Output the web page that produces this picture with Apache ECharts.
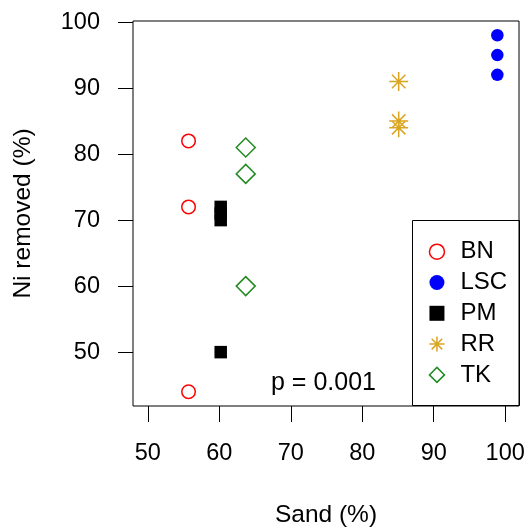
<!DOCTYPE html>
<html>
<head>
<meta charset="utf-8">
<script src="https://cdn.jsdelivr.net/npm/echarts@6/dist/echarts.min.js"></script>
<style>
  html, body { margin: 0; padding: 0; background: #fff; }
  #chart { width: 530px; height: 527px; }
</style>
</head>
<body>
<div id="chart"></div>
<script>
// groups and their colours
const groups = ['BN', 'LSC', 'PM', 'RR', 'TK']
const colors = ['#ff0000', '#0000ff', '#000000', '#daa520', '#228b22']

// sand (%) and Ni removed (%) per group
const sandBN = [55.7, 55.7, 55.7]
const niBN = [82, 72, 44]
const sandLSC = [98.9, 98.9, 98.9]
const niLSC = [98, 95, 92]
const sandPM = [60.2, 60.2, 60.2, 60.2]
const niPM = [72, 71, 70, 50]
const sandRR = [85.1, 85.1, 85.1]
const niRR = [91, 85, 84]
const sandTK = [63.7, 63.7, 63.7]
const niTK = [81, 77, 60]

// tick labels
const xTicks = [50, 60, 70, 80, 90, 100]
const yTicks = [50, 60, 70, 80, 90, 100]

const pText = 'p = 0.001'

const font = "'Liberation Sans', Arial, sans-serif"
const star = 'path://M0,-10L0,10M-10,0L10,0M-7.07,-7.07L7.07,7.07M-7.07,7.07L7.07,-7.07'

function pairs (xs, ys) {
  let out = []
  for (let i = 0; i < xs.length; i++) {
    out.push([xs[i], ys[i]])
  }
  return out
}

let chart = echarts.init(document.getElementById('chart'))

let option = {
  animation: false,
  textStyle: { fontFamily: font },
  grid: {
    left: 133, right: 11, top: 21, bottom: 121,
    outerBoundsMode: 'none',
    containLabel: false,
    show: true, borderColor: '#000', borderWidth: 1
  },
  xAxis: {
    type: 'value',
    min: 47.93, max: 101.93,
    name: 'Sand (%)',
    nameLocation: 'middle',
    nameGap: 97,
    nameTextStyle: { color: '#000', fontSize: 24.5, fontFamily: font },
    splitLine: { show: false },
    axisLine: { show: false },
    axisTick: { show: true, length: 16, lineStyle: { color: '#000' }, customValues: xTicks },
    axisLabel: { color: '#000', fontSize: 23.5, margin: 36, fontFamily: font, customValues: xTicks }
  },
  yAxis: {
    type: 'value',
    min: 41.84, max: 100.16,
    name: 'Ni removed (%)',
    nameLocation: 'middle',
    nameGap: 97,
    nameTextStyle: { color: '#000', fontSize: 24.5, fontFamily: font },
    splitLine: { show: false },
    axisLine: { show: false },
    axisTick: { show: true, length: 15, lineStyle: { color: '#000' }, customValues: yTicks },
    axisLabel: { color: '#000', fontSize: 23.5, margin: 33, fontFamily: font, customValues: yTicks }
  },
  legend: {
    orient: 'vertical',
    left: 428.7,
    top: 239.7,
    padding: 0,
    itemGap: 6.8,
    itemWidth: 15,
    itemHeight: 15,
    textStyle: { color: '#000', fontSize: 24, lineHeight: 24, fontFamily: font, padding: [0, 0, 0, 11] },
    data: [
      { name: 'BN', itemStyle: { borderWidth: 1.5, opacity: 1 } },
      { name: 'LSC', itemStyle: { opacity: 1 } },
      { name: 'PM', itemStyle: { opacity: 1 } },
      { name: 'RR', itemStyle: { borderWidth: 1.5, opacity: 1 } },
      { name: 'TK', itemStyle: { borderWidth: 1.5, opacity: 1 } }
    ]
  },
  graphic: [
    {
      type: 'rect',
      shape: { x: 412.5, y: 220.5, width: 107, height: 185 },
      style: { fill: 'none', stroke: '#000', lineWidth: 1 },
      silent: true
    },
    {
      type: 'text',
      x: 271, y: 383,
      style: { text: pText, fill: '#000', fontSize: 25, fontFamily: font, textVerticalAlign: 'middle' },
      silent: true
    }
  ],
  series: [
    {
      name: groups[0], type: 'scatter', symbol: 'circle', symbolSize: 13.5,
      itemStyle: { color: 'rgba(0,0,0,0)', borderColor: colors[0], borderWidth: 1.5, opacity: 1 },
      data: pairs(sandBN, niBN)
    },
    {
      name: groups[1], type: 'scatter', symbol: 'circle', symbolSize: 12.5,
      itemStyle: { color: colors[1], opacity: 1 },
      data: pairs(sandLSC, niLSC)
    },
    {
      name: groups[2], type: 'scatter', symbol: 'rect', symbolSize: 12.5,
      itemStyle: { color: colors[2], opacity: 1 },
      data: pairs(sandPM, niPM)
    },
    {
      name: groups[3], type: 'scatter', symbol: star, symbolSize: 19,
      itemStyle: { color: 'rgba(0,0,0,0)', borderColor: colors[3], borderWidth: 1.5, opacity: 1 },
      data: pairs(sandRR, niRR)
    },
    {
      name: groups[4], type: 'scatter', symbol: 'diamond', symbolSize: 19,
      itemStyle: { color: 'rgba(0,0,0,0)', borderColor: colors[4], borderWidth: 1.5, opacity: 1 },
      data: pairs(sandTK, niTK)
    }
  ]
}

chart.setOption(option)
</script>
</body>
</html>
